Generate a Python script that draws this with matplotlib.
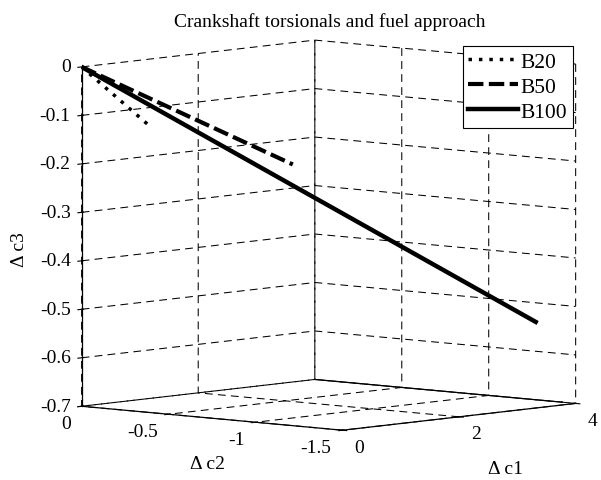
import matplotlib
matplotlib.use("Agg")
import matplotlib.pyplot as plt
import numpy as np

plt.rcParams['font.family'] = ['Liberation Serif', 'DejaVu Serif']
plt.rcParams['font.size'] = 14
plt.rcParams['axes3d.grid'] = True

# data: (delta c1, delta c2, delta c3) per fuel blend
b20_c1 = [0.0, 0.60]
b20_c2 = [0.0, -0.183]
b20_c3 = [0.0, -0.122]

b50_c1 = [0.0, 1.60]
b50_c2 = [0.0, -0.678]
b50_c3 = [0.0, -0.201]

b100_c1 = [0.0, 3.50]
b100_c2 = [0.0, -1.438]
b100_c3 = [0.0, -0.527]

labels = ['B20', 'B50', 'B100']
c1_lim = (0, 4)
c2_lim = (-1.5, 0)
c3_lim = (-0.7, 0)
c1_ticks = [0, 2, 4]
c1_ticklabels = ['0', '2', '4']
c2_ticks = [-1.5, -1, -0.5, 0]
c2_ticklabels = ['-1.5', '-1', '-0.5', '0']
c3_ticks = [-0.7, -0.6, -0.5, -0.4, -0.3, -0.2, -0.1, 0]
c3_ticklabels = ['-0.7', '-0.6', '-0.5', '-0.4', '-0.3', '-0.2', '-0.1', '0']

fig = plt.figure(figsize=(6.01, 4.81), dpi=100)
ax = fig.add_axes([0.036, -0.0045, 1.0, 1.0], projection='3d')
ax.set_proj_type('ortho')
ax.view_init(elev=5.9, azim=-138.2)
ax.set_box_aspect((1, 1, 0.975), zoom=1.213)

ax.set_xlim(*c1_lim)
ax.set_ylim(*c2_lim)
ax.set_zlim(*c3_lim)

for axis in (ax.xaxis, ax.yaxis, ax.zaxis):
    axis.pane.set_facecolor((1, 1, 1, 0))
    axis.pane.set_edgecolor('none')
    axis._axinfo['grid'].update(color='k', linewidth=0.75, linestyle=(0, (7.5, 5)))
    axis._axinfo['axisline']['color'] = 'k'
    axis._axinfo['tick']['color'] = 'k'
    axis.line.set_color('k')
    axis.line.set_linewidth(0.9)

# solid bottom edge of the back (c1 = max) wall, as in the original
ax.plot([c1_lim[1], c1_lim[1]], [c2_lim[0], c2_lim[1]], [c3_lim[0], c3_lim[0]], color='k', lw=0.9)

ax.plot(b20_c1, b20_c2, b20_c3, color='k', lw=2.5, linestyle=(0, (1, 2.0)), label=labels[0])
ax.plot(b50_c1, b50_c2, b50_c3, color='k', lw=3.0, linestyle=(0, (3.7, 1.3)), label=labels[1])
ax.plot(b100_c1, b100_c2, b100_c3, color='k', lw=3.2, linestyle='-', label=labels[2])

ax.set_xticks(c1_ticks)
ax.set_xticklabels(c1_ticklabels, ha='left', va='center')
ax.set_yticks(c2_ticks)
ax.set_yticklabels(c2_ticklabels, ha='right', va='center')
ax.set_zticks(c3_ticks)
ax.set_zticklabels(c3_ticklabels, ha='right', va='center')
ax.tick_params(axis='x', pad=0.5)
ax.tick_params(axis='y', pad=0.5)
ax.tick_params(axis='z', pad=-4)

fig.text(207 / 601, 1 - 465 / 481, '\u0394 c2', ha='center', va='center')
fig.text(505 / 601, 1 - 470 / 481, '\u0394 c1', ha='center', va='center')
fig.text(20 / 601, 1 - 250 / 481, '\u0394 c3', ha='center', va='center', rotation=90)

fig.text(0.549, 0.954, 'Crankshaft torsionals and fuel approach', ha='center', va='center')

leg = ax.legend(loc='upper right', bbox_to_anchor=(573 / 601, 1 - 47 / 481), bbox_transform=fig.transFigure,
                fancybox=False, framealpha=1, edgecolor='k', handlelength=2.3, handletextpad=0.12,
                labelspacing=0.23, borderpad=0.27, borderaxespad=0, fontsize=15.5)
leg.get_frame().set_linewidth(0.8)

fig.savefig('out.png', dpi=100)
